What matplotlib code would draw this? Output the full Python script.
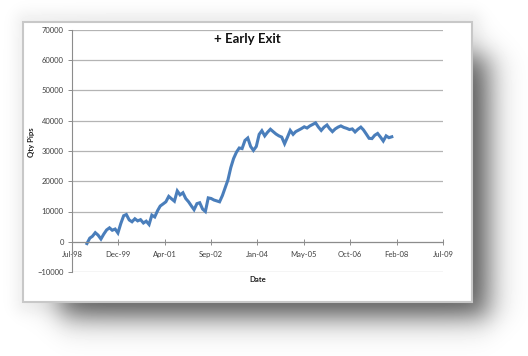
import numpy as np
import pandas as pd
import matplotlib
matplotlib.use("Agg")
import matplotlib.pyplot as plt
import matplotlib.dates as mdates
from matplotlib.patches import Rectangle

plt.rcParams['font.family'] = ['Lato', 'DejaVu Sans']

# monthly equity curve, Jan-1999 .. Jan-2008
months = pd.date_range("1999-01-01", "2008-01-01", freq="MS")
qty_pips = [
    -600, 1200, 1800, 3000, 2200, 900, 2500, 3900, 4600, 3800,
    4200, 2900, 6000, 8600, 9000, 7200, 6600, 7600, 6900, 7300,
    6200, 6800, 5700, 8800, 8200, 10300, 11800, 12500, 13200, 15000,
    14200, 13400, 16800, 15500, 16200, 14300, 13200, 11800, 10600, 12600,
    12900, 10800, 10000, 14500, 14300, 13800, 13500, 13200, 15300, 18000,
    20400, 24500, 27500, 29600, 31000, 30800, 33500, 34300, 31500, 30200,
    31500, 35500, 36700, 35000, 36200, 37200, 36400, 35600, 35000, 34600,
    32400, 34500, 36800, 35500, 36400, 36900, 37400, 38000, 37600, 38300,
    38800, 39300, 37900, 36800, 37900, 38600, 37400, 36400, 37300, 37900,
    38300, 37800, 37500, 37100, 37300, 36300, 37200, 37900, 37000, 35600,
    34200, 34100, 35200, 35800, 34600, 33300, 35000, 34400, 34700,
]

# Excel date axis: one tick every 500 days
tick_dates = pd.date_range("1998-07-24", periods=9, freq="500D")
y_ticks = list(range(-10000, 70001, 10000))

W, H = 528, 356
fig = plt.figure(figsize=(W / 100, H / 100), dpi=100)

# %%
# drop shadow behind the chart frame
bg = fig.add_axes([0, 0, 1, 1])
yy, xx = np.mgrid[0:H, 0:W]


def soft_box(x0, x1, y0, y1, s):
    fx = 0.25 * (1 + np.tanh((xx - x0) / s)) * (1 + np.tanh((x1 - xx) / s))
    fy = 0.25 * (1 + np.tanh((yy - y0) / s)) * (1 + np.tanh((y1 - yy) / s))
    return fx * fy


shade = 0.58 * soft_box(60, 490, 55, 318, 17) + 0.07 * soft_box(16, 480, 12, 312, 9)
bg.imshow(1 - np.clip(shade, 0, 1), cmap="gray", vmin=0, vmax=1,
          extent=(0, W, H, 0), interpolation="bilinear")
bg.add_patch(Rectangle((23, 22), 449, 280, facecolor="white",
                       edgecolor="#c8c8c8", lw=1.5))
bg.set_xlim(0, W)
bg.set_ylim(H, 0)
bg.axis("off")

# %%
# the chart itself
ax = fig.add_axes([72 / W, 1 - 272 / H, 371 / W, 242 / H])
ax.patch.set_alpha(0)
ax.plot(months, qty_pips, color="#4a7ebb", lw=2.2, solid_joinstyle="miter")

ax.set_ylim(-10000, 70000)
ax.set_yticks(y_ticks)
ax.set_xlim(tick_dates[0], tick_dates[-1])
ax.set_xticks(tick_dates)
ax.xaxis.set_major_formatter(mdates.DateFormatter("%b-%y"))
ax.grid(axis="y", color="#b4b4b4", lw=0.9)
ax.set_axisbelow(True)

for side in ("top", "right"):
    ax.spines[side].set_visible(False)
ax.spines["bottom"].set_position(("data", 0))
ax.spines["left"].set_color("#8c8c8c")
ax.spines["bottom"].set_color("#8c8c8c")
ax.spines["left"].set_linewidth(0.8)
ax.spines["bottom"].set_linewidth(0.8)

ax.tick_params(axis="y", length=3, width=0.7, color="#8c8c8c",
               labelsize=5.5, labelcolor="#404040", pad=3)
ax.tick_params(axis="x", direction="inout", length=4, width=0.7,
               color="#8c8c8c", labelsize=5.5, labelcolor="#404040", pad=5)

ax.set_xlabel("Date", fontsize=5.6, fontweight="bold", color="#222222")
ax.xaxis.set_label_coords(0.501, -0.018)
ax.set_ylabel("Qty Pips", fontsize=5.6, fontweight="bold", color="#222222")
ax.yaxis.set_label_coords(-0.1, 0.535)

ax.text(0.474, 0.988, "+ Early Exit", transform=ax.transAxes,
        ha="center", va="top", fontsize=9.5, fontweight="bold", color="#111111")

fig.savefig("out.png", dpi=100)
